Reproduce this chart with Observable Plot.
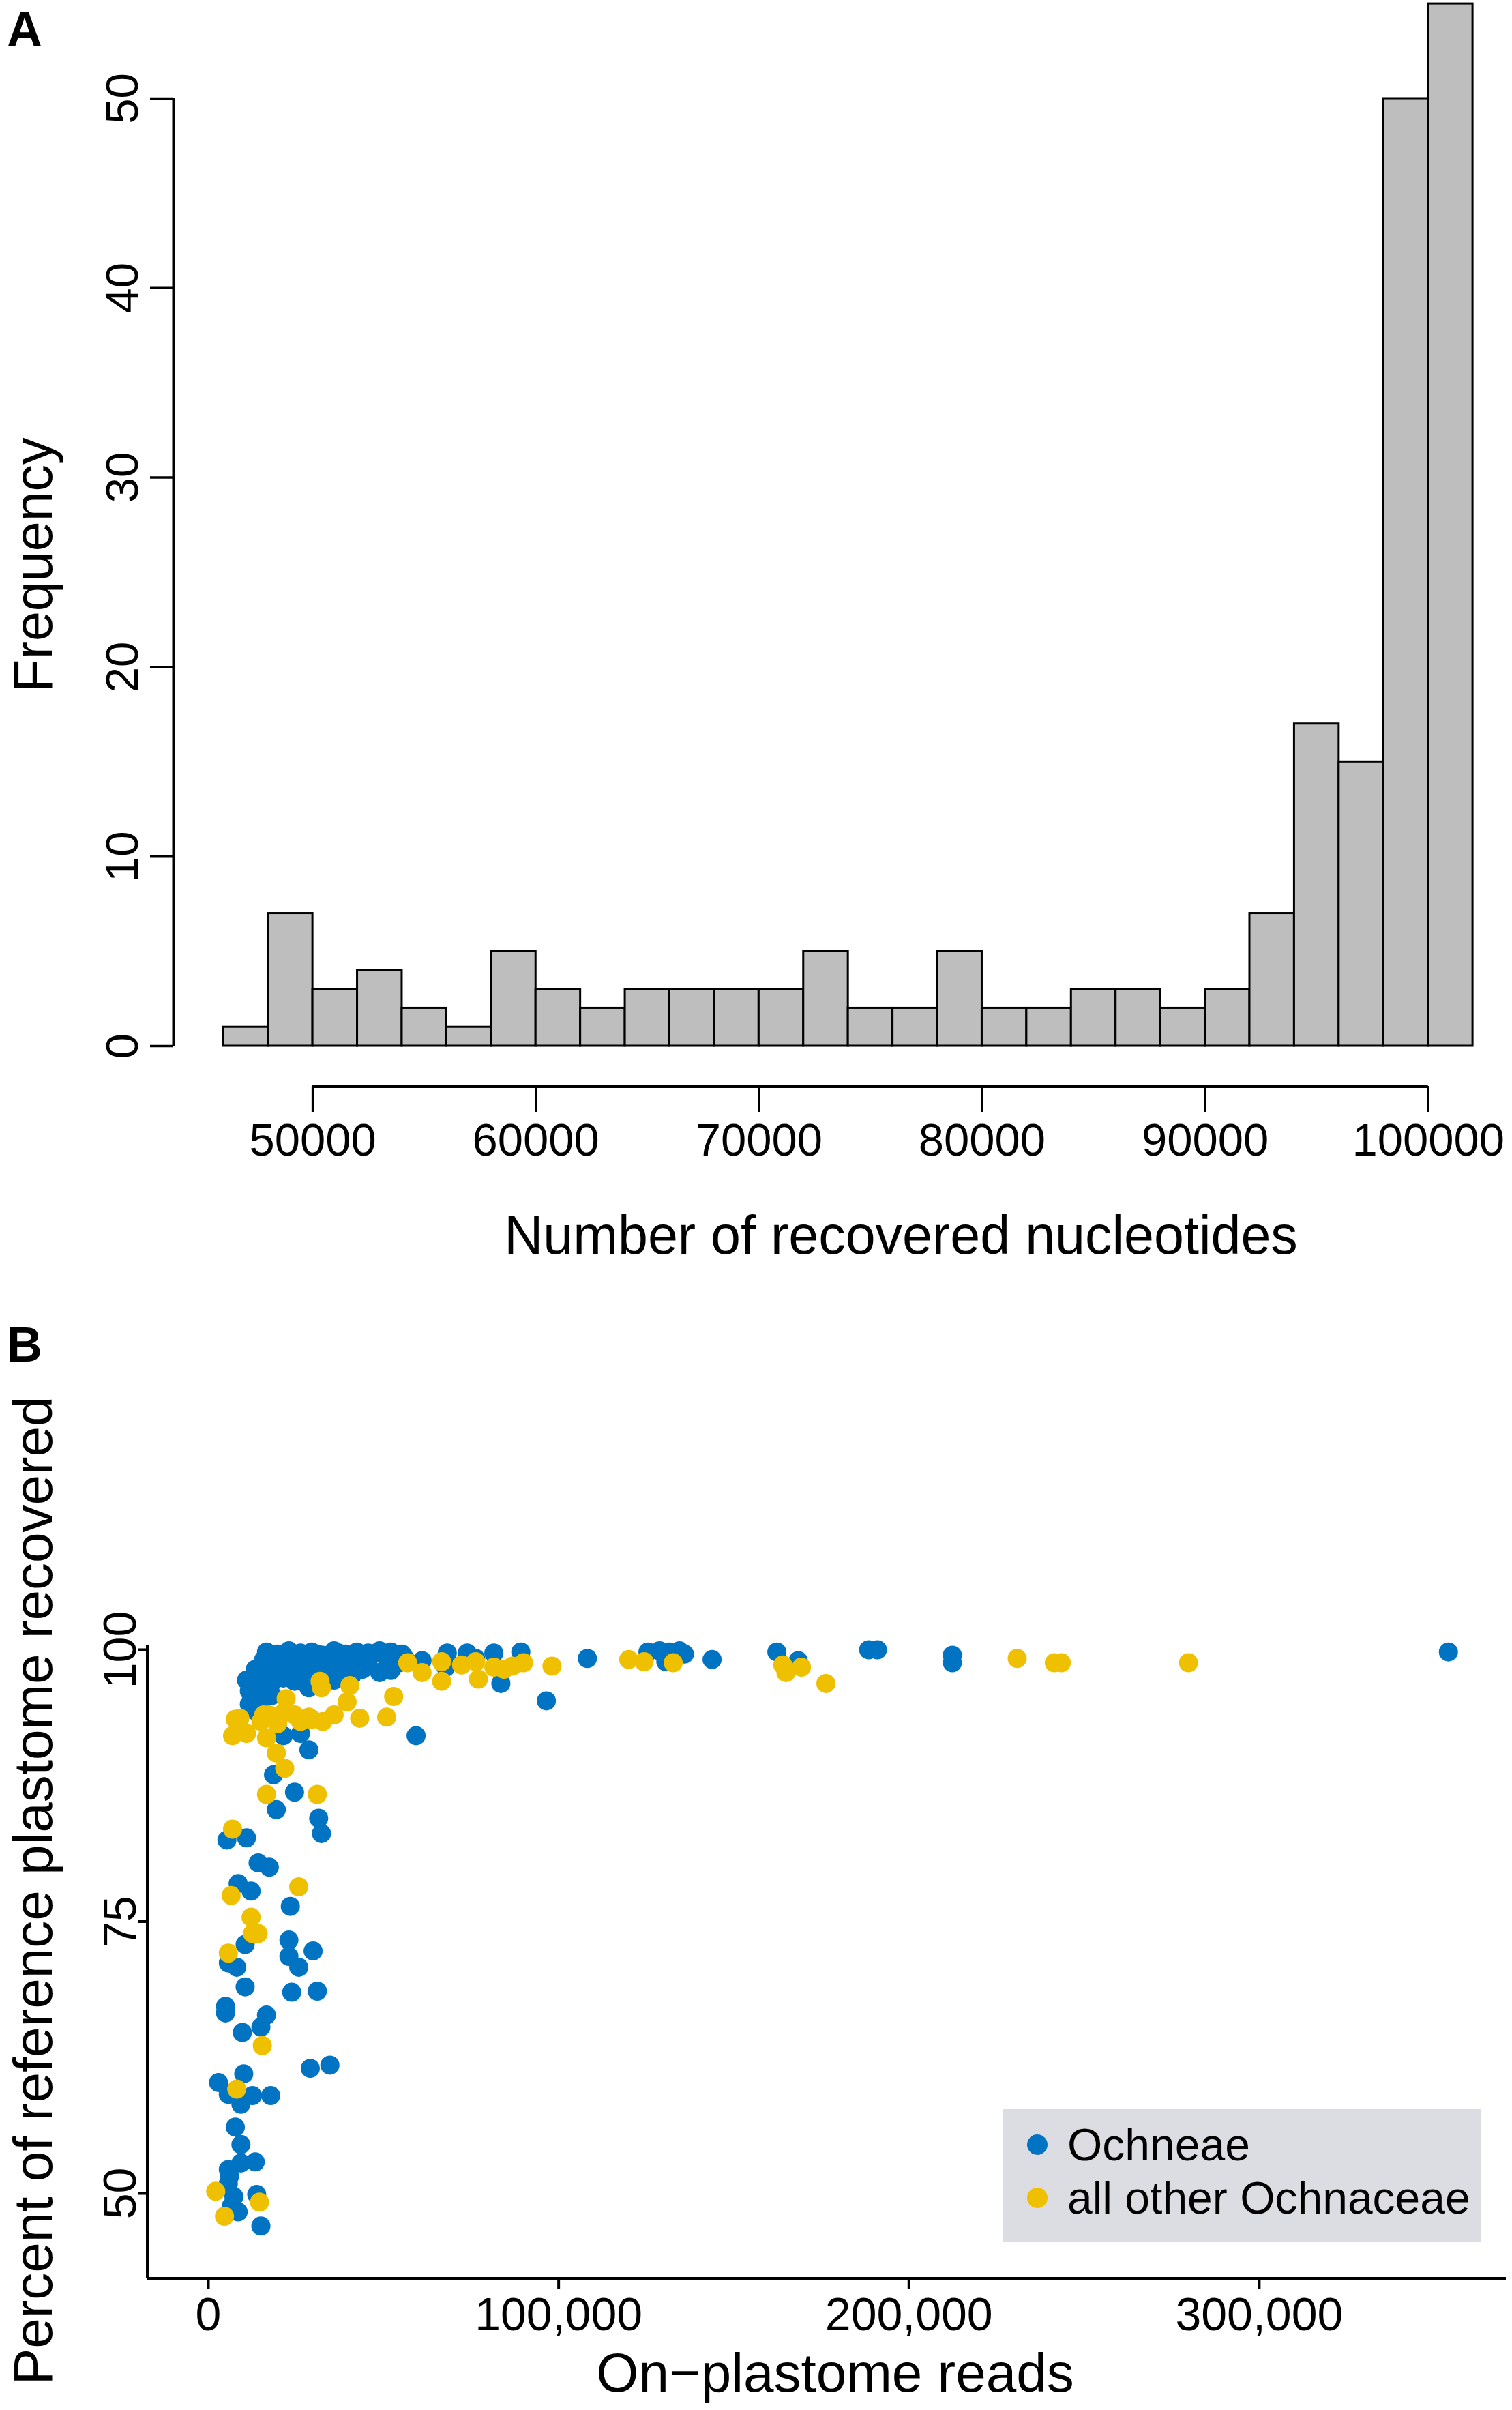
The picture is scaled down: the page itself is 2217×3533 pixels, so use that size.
<!DOCTYPE html>
<html><head><meta charset="utf-8">
<script src="https://cdn.jsdelivr.net/npm/d3@7"></script>
<script src="https://cdn.jsdelivr.net/npm/@observablehq/plot@0.6"></script>
<style>
body{margin:0;background:#fff;font-family:"Liberation Sans",Arial,sans-serif;}
#wrap{position:relative;width:2217px;height:3533px;overflow:hidden;background:#fff;}
.panel{position:absolute;left:0;}
.lab{position:absolute;font-weight:bold;font-size:72px;line-height:82px;color:#000;}
#legend{position:absolute;left:1470px;top:3092px;width:702px;height:195px;background:#DCDDE2;}
.li{position:absolute;left:0;height:70px;display:flex;align-items:center;font-size:66px;color:#000;white-space:nowrap;}
.li span.d{display:inline-block;width:30px;height:30px;border-radius:50%;margin-left:36px;margin-right:29px;}
</style></head><body><div id="wrap">
<div id="pa" class="panel" style="top:0"></div>
<div id="pb" class="panel" style="top:1900px"></div>
<div class="lab" style="left:10px;top:2px">A</div>
<div class="lab" style="left:10px;top:1930px">B</div>
<div id="legend"></div>
</div>
<script>
// ---------- Panel A: histogram ----------
const binStarts = [46000,48000,50000,52000,54000,56000,58000,60000,62000,64000,66000,68000,70000,72000,74000,76000,78000,80000,82000,84000,86000,88000,90000,92000,94000,96000,98000,100000];
const binCounts = [1,7,3,4,2,1,5,3,2,3,3,3,3,5,2,2,5,2,2,3,3,2,3,7,17,15,50,55];
const binWidth = 2000;
const nucTicks = [50000,60000,70000,80000,90000,100000];
const freqTicks = [0,10,20,30,40,50];
const xDomainA = [43760, 103770];
const yDomainA = [0, 50];

// ---------- Panel B: scatter ----------
const ochneaeReads = [10900,17400,22200,24600,31100,37200,41600,48000,52100,56100,50500,45600,61000,68200,73900,76300,81500,89200,83500,96500,67800,59300,28700,15800,13300,21400,26300,28700,18600,24600,19400,31500,32300,5300,10900,14200,17400,8500,12200,23400,10500,5700,8100,23000,23000,25800,29900,
10500,23800,31100,4900,4900,16600,15000,9700,29100,34700,2900,10100,5700,12600,9300,17800,7700,9300,13400,9300,5700,5700,7300,6500,13800,15000,6100,8500,
108200,125500,128800,131500,134500,130600,135900,143800,162300,168400,188500,191000,212400,212400,354000,
16600,19800,23000,26300,29500,32700,35900,39200,42400,45600,48900,52100,55300,
15800,19000,22200,25500,28700,31900,35100,38400,41600,44800,51300,54500,
13400,16600,19800,23000,26300,29500,32700,35900,39200,44000,48900,52100,
14200,18200,21400,24600,27900,35900,40800,
11700,15000,18200,11700,14200];
const ochneaeRecovered = [97.2,99.5,99.7,98.8,99.6,99.7,98.6,99.7,99.5,99.2,98.2,98.6,99.0,99.7,99.7,99.2,99.7,99.8,96.9,95.3,98.4,92.1,96.5,95.5,94.4,92.1,92.3,90.8,88.5,86.9,85.3,84.5,83.1,82.5,82.7,80.4,80.0,78.5,77.8,76.4,72.9,71.2,70.8,73.3,71.8,70.8,72.3,
69.0,68.5,68.6,66.6,67.2,66.4,65.3,64.8,61.5,61.8,60.2,61.0,59.1,59.0,58.2,59.0,56.1,54.5,52.9,52.8,52.2,50.9,49.7,48.8,49.9,47.0,51.6,48.3,
99.2,99.8,99.9,99.8,99.9,98.9,99.6,99.1,99.8,99.0,100,100,99.5,98.8,99.8,
99.8,99.6,99.9,99.7,99.8,99.5,99.9,99.6,99.8,99.7,99.9,99.8,99.6,
99.1,98.9,99.2,98.9,99.1,99.0,98.8,99.2,99.0,98.9,99.1,98.8,
98.2,98.0,98.3,97.9,98.1,98.2,97.8,98.3,98.0,98.2,97.9,98.1,
97.3,97.0,97.4,97.1,96.9,97.2,97.5,
96.2,96.0,95.8,95.0,94.9];
const otherReads = [56900,61000,66600,66600,72300,76300,77100,81500,84400,86800,90000,98100,52900,50900,43200,40400,39600,32300,31900,35900,32700,29500,26300,22200,21400,19800,15800,15000,9000,6900,10900,16600,19400,21800,16600,31100,6900,25800,6500,12200,12600,14200,5700,15400,8100,2100,4600,14600,
120000,124400,132700,164000,164900,169300,176300,230900,241500,243500,279800,
17400,24600,28700,7700];
const otherRecovered = [98.8,97.9,98.9,97.1,98.6,98.9,97.3,98.4,98.2,98.5,98.8,98.5,95.7,93.8,93.7,96.7,95.2,96.5,97.1,94.0,93.4,93.6,93.4,95.5,94.2,93.2,94.0,93.4,93.7,92.1,92.3,91.9,90.5,89.1,86.7,86.7,83.5,78.2,77.4,75.4,73.9,73.9,72.1,63.6,59.6,50.2,47.9,49.2,
99.1,98.9,98.8,98.6,97.9,98.4,96.9,99.2,98.8,98.8,98.8,
94.0,94.0,93.8,93.6];
const groups = ["Ochneae", "all other Ochnaceae"];
const groupColors = ["#0073C2", "#EFC000"];
const readTicks = [0,100000,200000,300000];
const pctTicks = [50,75,100];
const xDomainB = [-17330, 370500];
const yDomainB = [42.16, 100.4];

const FONT = "Liberation Sans, Arial, Helvetica, sans-serif";

const bins = binStarts.map((s,i) => ({x1: s, x2: s + binWidth, count: binCounts[i]}));

const A = Plot.plot({
  width: 2217, height: 1900,
  marginLeft: 254, marginRight: 0, marginTop: 144, marginBottom: 367,
  x: {domain: xDomainA},
  y: {domain: yDomainA},
  style: {fontFamily: FONT, background: "white", color: "black", overflow: "visible"},
  marks: [
    Plot.rectY(bins, {x1: "x1", x2: "x2", y: "count", fill: "#BEBEBE", stroke: "black", strokeWidth: 3}),
    Plot.ruleX([xDomainA[0]], {y1: freqTicks[0], y2: freqTicks[freqTicks.length-1], stroke: "black", strokeWidth: 4}),
    Plot.axisY({ticks: freqTicks, tickSize: 34, tickPadding: 19, tickRotate: -90, fontSize: 67, strokeWidth: 3.5, label: null, tickFormat: d => String(d)}),
    Plot.ruleY([0], {x1: nucTicks[0], x2: nucTicks[nucTicks.length-1], dy: 59, stroke: "black", strokeWidth: 5}),
    Plot.axisX({ticks: nucTicks, tickSize: 38, tickPadding: 16, dy: 59, fontSize: 67, strokeWidth: 3.5, label: null, tickFormat: d => String(d)}),
    Plot.text(["Number of recovered nucleotides"], {frameAnchor: "bottom", dy: 304, dx: 85, lineAnchor: "bottom", fontSize: 79, fill: "black"}),
    Plot.text(["Frequency"], {frameAnchor: "left", rotate: -90, dx: -179, dy: -11, lineAnchor: "bottom", textAnchor: "middle", fontSize: 79, fill: "black"})
  ]
});
document.getElementById("pa").appendChild(A);

const ptsOch = ochneaeReads.map((r,i) => ({reads: r, pct: ochneaeRecovered[i], g: groups[0]}));
const ptsOth = otherReads.map((r,i) => ({reads: r, pct: otherRecovered[i], g: groups[1]}));

const B = Plot.plot({
  width: 2217, height: 1633,
  marginLeft: 216, marginRight: 9, marginTop: 511.6, marginBottom: 193,
  x: {domain: xDomainB},
  y: {domain: yDomainB},
  color: {domain: groups, range: groupColors},
  style: {fontFamily: FONT, background: "transparent", color: "black", overflow: "visible"},
  marks: [
    Plot.dot(ptsOch, {x: "reads", y: "pct", r: 14, fill: "g", stroke: null}),
    Plot.dot(ptsOth, {x: "reads", y: "pct", r: 14, fill: "g", stroke: null}),
    Plot.ruleX([xDomainB[0]], {stroke: "black", strokeWidth: 5}),
    Plot.ruleY([yDomainB[0]], {stroke: "black", strokeWidth: 5}),
    Plot.axisX({ticks: readTicks, tickSize: 15, tickPadding: 12, fontSize: 68, strokeWidth: 4, label: null, tickFormat: d3.format(",")}),
    Plot.axisY({ticks: pctTicks, tickSize: 13, tickPadding: 5, tickRotate: -90, fontSize: 68, strokeWidth: 4, label: null, tickFormat: d => String(d)}),
    Plot.text(["On\u2212plastome reads"], {frameAnchor: "bottom", dy: 165, dx: 12, lineAnchor: "bottom", fontSize: 80, fill: "black"}),
    Plot.text(["Percent of reference plastome recovered"], {frameAnchor: "left", rotate: -90, dx: -141, dy: -105, lineAnchor: "bottom", textAnchor: "middle", fontSize: 80, fill: "black"})
  ]
});
document.getElementById("pb").appendChild(B);

// legend
const leg = document.getElementById("legend");
groups.forEach((g, i) => {
  const row = document.createElement("div");
  row.className = "li";
  row.style.top = (i === 0 ? 17 : 95) + "px";
  const dot = document.createElement("span");
  dot.className = "d";
  dot.style.background = groupColors[i];
  const t = document.createElement("span");
  t.textContent = g;
  row.appendChild(dot); row.appendChild(t);
  leg.appendChild(row);
});
</script></body></html>
